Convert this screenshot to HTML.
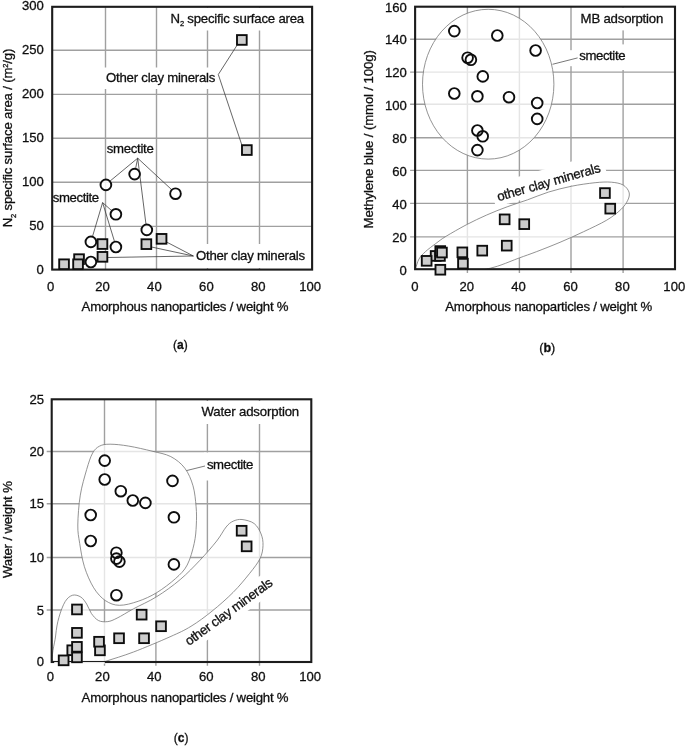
<!DOCTYPE html>
<html><head><meta charset="utf-8"><title>Figure</title>
<style>html,body{margin:0;padding:0;background:#fff}svg{display:block}text{font-family:"Liberation Sans",Arial,Helvetica,sans-serif;fill:#111;stroke:#111;stroke-width:0.3px}</style></head><body>
<svg width="685" height="746" viewBox="0 0 685 746">
<rect width="685" height="746" fill="#fff"/>
<defs><filter id="soft" x="0" y="0" width="685" height="746" filterUnits="userSpaceOnUse"><feGaussianBlur stdDeviation="0.4"/></filter></defs>
<g filter="url(#soft)">
<g id="plot-a">
<line x1="105.5" y1="6.8" x2="105.5" y2="269.6" stroke="#a0a0a0" stroke-width="1.4"/>
<line x1="156.5" y1="6.8" x2="156.5" y2="269.6" stroke="#a0a0a0" stroke-width="1.4"/>
<line x1="207.5" y1="6.8" x2="207.5" y2="269.6" stroke="#a0a0a0" stroke-width="1.4"/>
<line x1="259.5" y1="6.8" x2="259.5" y2="269.6" stroke="#a0a0a0" stroke-width="1.4"/>
<line x1="52.2" y1="50.3" x2="312.1" y2="50.3" stroke="#a0a0a0" stroke-width="1.4"/>
<line x1="52.2" y1="94.4" x2="312.1" y2="94.4" stroke="#a0a0a0" stroke-width="1.4"/>
<line x1="52.2" y1="138.3" x2="312.1" y2="138.3" stroke="#a0a0a0" stroke-width="1.4"/>
<line x1="52.2" y1="182.3" x2="312.1" y2="182.3" stroke="#a0a0a0" stroke-width="1.4"/>
<line x1="52.2" y1="226.4" x2="312.1" y2="226.4" stroke="#a0a0a0" stroke-width="1.4"/>
<rect x="166" y="8" width="142" height="22.5" fill="#fff"/>
<rect x="103" y="67.5" width="114" height="21.5" fill="#fff"/>
<rect x="194" y="244" width="116" height="24" fill="#fff"/>
<line x1="218.3" y1="74.5" x2="237.5" y2="44.5" stroke="#333" stroke-width="0.75"/>
<line x1="218.3" y1="74.5" x2="242" y2="145.5" stroke="#333" stroke-width="0.75"/>
<line x1="137.7" y1="158.2" x2="109.5" y2="181.5" stroke="#333" stroke-width="0.75"/>
<line x1="137.7" y1="158.2" x2="135.5" y2="169" stroke="#333" stroke-width="0.75"/>
<line x1="137.7" y1="158.2" x2="171.5" y2="189.5" stroke="#333" stroke-width="0.75"/>
<line x1="137.7" y1="158.2" x2="146" y2="224.5" stroke="#333" stroke-width="0.75"/>
<line x1="102.6" y1="202.6" x2="111.5" y2="210.5" stroke="#333" stroke-width="0.75"/>
<line x1="102.6" y1="202.6" x2="92.5" y2="236.5" stroke="#333" stroke-width="0.75"/>
<line x1="102.6" y1="202.6" x2="114.5" y2="241.5" stroke="#333" stroke-width="0.75"/>
<line x1="193.4" y1="256" x2="166.5" y2="242" stroke="#333" stroke-width="0.75"/>
<line x1="193.4" y1="256" x2="151.5" y2="247" stroke="#333" stroke-width="0.75"/>
<line x1="193.4" y1="256" x2="107.5" y2="257.5" stroke="#333" stroke-width="0.75"/>
<rect x="52.2" y="6.8" width="259.90000000000003" height="262.8" fill="none" stroke="#1c1c1c" stroke-width="2.1"/>
<rect x="237.0" y="35.1" width="9.7" height="9.7" fill="#cdcdcd" stroke="#111" stroke-width="1.9"/>
<rect x="242.0" y="145.2" width="9.7" height="9.7" fill="#cdcdcd" stroke="#111" stroke-width="1.9"/>
<rect x="156.7" y="234.0" width="9.7" height="9.7" fill="#cdcdcd" stroke="#111" stroke-width="1.9"/>
<rect x="141.5" y="239.3" width="9.7" height="9.7" fill="#cdcdcd" stroke="#111" stroke-width="1.9"/>
<rect x="97.6" y="239.2" width="9.7" height="9.7" fill="#cdcdcd" stroke="#111" stroke-width="1.9"/>
<rect x="97.6" y="252.0" width="9.7" height="9.7" fill="#cdcdcd" stroke="#111" stroke-width="1.9"/>
<rect x="74.2" y="254.3" width="9.7" height="9.7" fill="#cdcdcd" stroke="#111" stroke-width="1.9"/>
<rect x="59.2" y="259.4" width="9.7" height="9.7" fill="#cdcdcd" stroke="#111" stroke-width="1.9"/>
<rect x="73.2" y="259.4" width="9.7" height="9.7" fill="#cdcdcd" stroke="#111" stroke-width="1.9"/>
<circle cx="105.9" cy="184.9" r="5.35" fill="rgba(255,255,255,0.85)"/>
<circle cx="134.6" cy="174.1" r="5.35" fill="rgba(255,255,255,0.85)"/>
<circle cx="175.5" cy="193.7" r="5.35" fill="rgba(255,255,255,0.85)"/>
<circle cx="115.9" cy="214.3" r="5.35" fill="rgba(255,255,255,0.85)"/>
<circle cx="146.8" cy="229.9" r="5.35" fill="rgba(255,255,255,0.85)"/>
<circle cx="90.9" cy="241.9" r="5.35" fill="rgba(255,255,255,0.85)"/>
<circle cx="115.9" cy="247.0" r="5.35" fill="rgba(255,255,255,0.85)"/>
<circle cx="90.9" cy="262.0" r="5.35" fill="rgba(255,255,255,0.85)"/>
<circle cx="105.9" cy="184.9" r="5.35" fill="none" stroke="#111" stroke-width="1.9"/>
<circle cx="134.6" cy="174.1" r="5.35" fill="none" stroke="#111" stroke-width="1.9"/>
<circle cx="175.5" cy="193.7" r="5.35" fill="none" stroke="#111" stroke-width="1.9"/>
<circle cx="115.9" cy="214.3" r="5.35" fill="none" stroke="#111" stroke-width="1.9"/>
<circle cx="146.8" cy="229.9" r="5.35" fill="none" stroke="#111" stroke-width="1.9"/>
<circle cx="90.9" cy="241.9" r="5.35" fill="none" stroke="#111" stroke-width="1.9"/>
<circle cx="115.9" cy="247.0" r="5.35" fill="none" stroke="#111" stroke-width="1.9"/>
<circle cx="90.9" cy="262.0" r="5.35" fill="none" stroke="#111" stroke-width="1.9"/>
<text x="170.6" y="22.8" font-size="13.2" textLength="133.6" lengthAdjust="spacing">N<tspan font-size="7.5" dy="3.5">2</tspan><tspan dy="-3.5"> specific surface area</tspan></text>
<text x="106.1" y="81.6" font-size="13.2" text-anchor="start" textLength="109.2" lengthAdjust="spacing">Other clay minerals</text>
<text x="106.8" y="152.8" font-size="13.2" text-anchor="start" textLength="47" lengthAdjust="spacing">smectite</text>
<text x="52.8" y="201.9" font-size="13.2" text-anchor="start" textLength="46.3" lengthAdjust="spacing">smectite</text>
<text x="196" y="260.4" font-size="13.2" text-anchor="start" textLength="109" lengthAdjust="spacing">Other clay minerals</text>
<text x="43.8" y="10.4" font-size="13.1" text-anchor="end">300</text>
<text x="43.8" y="54.4" font-size="13.1" text-anchor="end">250</text>
<text x="43.8" y="98.4" font-size="13.1" text-anchor="end">200</text>
<text x="43.8" y="142.3" font-size="13.1" text-anchor="end">150</text>
<text x="43.8" y="186.3" font-size="13.1" text-anchor="end">100</text>
<text x="43.8" y="230.3" font-size="13.1" text-anchor="end">50</text>
<text x="43.8" y="274.3" font-size="13.1" text-anchor="end">0</text>
<text x="50.6" y="290.5" font-size="13.1" text-anchor="middle">0</text>
<text x="102.5" y="290.5" font-size="13.1" text-anchor="middle">20</text>
<text x="154.4" y="290.5" font-size="13.1" text-anchor="middle">40</text>
<text x="206.4" y="290.5" font-size="13.1" text-anchor="middle">60</text>
<text x="258.3" y="290.5" font-size="13.1" text-anchor="middle">80</text>
<text x="310.2" y="290.5" font-size="13.1" text-anchor="middle">100</text>
<text x="185.1" y="310.8" font-size="13.2" text-anchor="middle" textLength="207" lengthAdjust="spacing">Amorphous nanoparticles / weight %</text>
<text transform="translate(12.0,138.0) rotate(-90)" font-size="13.2" text-anchor="middle" textLength="178.6" lengthAdjust="spacing">N<tspan font-size="7.5" dy="3.5">2</tspan><tspan dy="-3.5"> specific surface area / (m</tspan><tspan font-size="7.5" dy="-4.5">2</tspan><tspan dy="4.5">/g)</tspan></text>
<text x="180.3" y="348.9" font-size="12" text-anchor="middle">(<tspan font-weight="bold">a</tspan>)</text>
</g>
<g id="plot-b">
<clipPath id="clipb"><rect x="415.1" y="6.7" width="259.9" height="262.5"/></clipPath>
<line x1="467.4" y1="6.7" x2="467.4" y2="273.0" stroke="#a0a0a0" stroke-width="1.4"/>
<line x1="519.4" y1="6.7" x2="519.4" y2="273.0" stroke="#a0a0a0" stroke-width="1.4"/>
<line x1="571" y1="6.7" x2="571" y2="273.0" stroke="#a0a0a0" stroke-width="1.4"/>
<line x1="623.1" y1="6.7" x2="623.1" y2="273.0" stroke="#a0a0a0" stroke-width="1.4"/>
<line x1="410.1" y1="39.3" x2="675" y2="39.3" stroke="#a0a0a0" stroke-width="1.4"/>
<line x1="410.1" y1="72.1" x2="675" y2="72.1" stroke="#a0a0a0" stroke-width="1.4"/>
<line x1="410.1" y1="104.3" x2="675" y2="104.3" stroke="#a0a0a0" stroke-width="1.4"/>
<line x1="410.1" y1="137.7" x2="675" y2="137.7" stroke="#a0a0a0" stroke-width="1.4"/>
<line x1="410.1" y1="170.4" x2="675" y2="170.4" stroke="#a0a0a0" stroke-width="1.4"/>
<line x1="410.1" y1="203.4" x2="675" y2="203.4" stroke="#a0a0a0" stroke-width="1.4"/>
<line x1="410.1" y1="236.9" x2="675" y2="236.9" stroke="#a0a0a0" stroke-width="1.4"/>
<rect x="576" y="7.8" width="97" height="22.6" fill="#fff"/>
<rect x="569" y="50.2" width="59" height="16" fill="#fff"/>
<rect x="618" y="44.4" width="10" height="25.6" fill="#fff"/>
<rect x="-4" y="-18" width="116" height="23" fill="#fff" transform="translate(498.4,201.2) rotate(-16)"/>
<ellipse cx="488.2" cy="84.2" rx="65.7" ry="74.9" fill="rgba(255,255,255,0.72)" stroke="#777" stroke-width="0.8"/>
<path d="M415.3,268.8 C416.5,266.3 417.3,261.9 419.0,259.0 C420.7,256.1 422.6,254.3 425.4,251.7 C428.2,249.1 432.3,246.1 435.7,243.6 C439.1,241.1 440.8,239.5 445.9,236.4 C451.0,233.3 459.5,228.4 466.3,224.8 C473.1,221.2 479.9,218.0 486.7,215.0 C493.5,212.0 500.4,209.3 507.2,206.8 C514.0,204.3 520.7,202.2 527.6,199.8 C534.5,197.4 541.0,194.4 548.4,192.1 C555.8,189.8 563.9,187.8 571.7,186.2 C579.5,184.6 588.5,183.4 595.1,182.7 C601.7,182.0 606.7,181.8 611.4,182.2 C616.1,182.6 620.2,183.3 623.1,185.0 C626.0,186.7 628.2,189.6 629.0,192.1 C629.8,194.6 629.2,197.3 627.8,200.2 C626.4,203.1 624.3,206.3 620.8,209.6 C617.3,212.9 613.0,216.4 606.8,220.1 C600.6,223.8 591.2,228.1 583.4,231.8 C575.6,235.5 567.8,239.0 560.0,242.3 C552.2,245.6 543.5,249.0 536.7,251.6 C529.9,254.2 525.4,255.7 519.4,257.9 C513.4,260.1 506.4,263.1 501.0,265.0 C495.6,266.9 492.7,267.6 486.7,269.1 C480.7,270.6 474.4,272.7 465.0,274.0 C455.6,275.3 438.8,277.0 430.0,277.0 C421.2,277.0 414.4,275.4 412.0,274.0 C409.6,272.6 414.1,271.3 415.3,268.8Z" fill="rgba(255,255,255,0.72)" stroke="#777" stroke-width="0.8" clip-path="url(#clipb)"/>
<line x1="552.5" y1="64.3" x2="577.6" y2="57.9" stroke="#555" stroke-width="0.8"/>
<rect x="415.1" y="6.7" width="259.9" height="262.5" fill="none" stroke="#1c1c1c" stroke-width="2.1"/>
<rect x="430.8" y="251.1" width="9.7" height="9.7" fill="#cdcdcd" stroke="#111" stroke-width="1.9"/>
<rect x="435.1" y="251.1" width="9.7" height="9.7" fill="#cdcdcd" stroke="#111" stroke-width="1.9"/>
<rect x="421.8" y="256.0" width="9.7" height="9.7" fill="#cdcdcd" stroke="#111" stroke-width="1.9"/>
<rect x="435.4" y="246.2" width="9.7" height="9.7" fill="#cdcdcd" stroke="#111" stroke-width="1.9"/>
<rect x="437.1" y="247.7" width="9.7" height="9.7" fill="#cdcdcd" stroke="#111" stroke-width="1.9"/>
<rect x="435.5" y="264.9" width="9.7" height="9.7" fill="#cdcdcd" stroke="#111" stroke-width="1.9"/>
<rect x="457.5" y="247.5" width="9.7" height="9.7" fill="#cdcdcd" stroke="#111" stroke-width="1.9"/>
<rect x="458.1" y="258.8" width="9.7" height="9.7" fill="#cdcdcd" stroke="#111" stroke-width="1.9"/>
<rect x="477.4" y="245.8" width="9.7" height="9.7" fill="#cdcdcd" stroke="#111" stroke-width="1.9"/>
<rect x="501.9" y="240.8" width="9.7" height="9.7" fill="#cdcdcd" stroke="#111" stroke-width="1.9"/>
<rect x="499.8" y="214.5" width="9.7" height="9.7" fill="#cdcdcd" stroke="#111" stroke-width="1.9"/>
<rect x="519.4" y="219.3" width="9.7" height="9.7" fill="#cdcdcd" stroke="#111" stroke-width="1.9"/>
<rect x="600.1" y="188.2" width="9.7" height="9.7" fill="#cdcdcd" stroke="#111" stroke-width="1.9"/>
<rect x="605.4" y="203.8" width="9.7" height="9.7" fill="#cdcdcd" stroke="#111" stroke-width="1.9"/>
<circle cx="454.3" cy="31.1" r="5.35" fill="rgba(255,255,255,0.85)"/>
<circle cx="497.3" cy="35.5" r="5.35" fill="rgba(255,255,255,0.85)"/>
<circle cx="535.6" cy="50.5" r="5.35" fill="rgba(255,255,255,0.85)"/>
<circle cx="467.6" cy="57.7" r="5.35" fill="rgba(255,255,255,0.85)"/>
<circle cx="470.9" cy="59.8" r="5.35" fill="rgba(255,255,255,0.85)"/>
<circle cx="482.8" cy="76.4" r="5.35" fill="rgba(255,255,255,0.85)"/>
<circle cx="454.3" cy="93.5" r="5.35" fill="rgba(255,255,255,0.85)"/>
<circle cx="477.4" cy="96.3" r="5.35" fill="rgba(255,255,255,0.85)"/>
<circle cx="509.0" cy="97.2" r="5.35" fill="rgba(255,255,255,0.85)"/>
<circle cx="537.2" cy="103.0" r="5.35" fill="rgba(255,255,255,0.85)"/>
<circle cx="537.2" cy="118.9" r="5.35" fill="rgba(255,255,255,0.85)"/>
<circle cx="477.4" cy="130.5" r="5.35" fill="rgba(255,255,255,0.85)"/>
<circle cx="482.7" cy="136.3" r="5.35" fill="rgba(255,255,255,0.85)"/>
<circle cx="477.4" cy="150.1" r="5.35" fill="rgba(255,255,255,0.85)"/>
<circle cx="454.3" cy="31.1" r="5.35" fill="none" stroke="#111" stroke-width="1.9"/>
<circle cx="497.3" cy="35.5" r="5.35" fill="none" stroke="#111" stroke-width="1.9"/>
<circle cx="535.6" cy="50.5" r="5.35" fill="none" stroke="#111" stroke-width="1.9"/>
<circle cx="467.6" cy="57.7" r="5.35" fill="none" stroke="#111" stroke-width="1.9"/>
<circle cx="470.9" cy="59.8" r="5.35" fill="none" stroke="#111" stroke-width="1.9"/>
<circle cx="482.8" cy="76.4" r="5.35" fill="none" stroke="#111" stroke-width="1.9"/>
<circle cx="454.3" cy="93.5" r="5.35" fill="none" stroke="#111" stroke-width="1.9"/>
<circle cx="477.4" cy="96.3" r="5.35" fill="none" stroke="#111" stroke-width="1.9"/>
<circle cx="509.0" cy="97.2" r="5.35" fill="none" stroke="#111" stroke-width="1.9"/>
<circle cx="537.2" cy="103.0" r="5.35" fill="none" stroke="#111" stroke-width="1.9"/>
<circle cx="537.2" cy="118.9" r="5.35" fill="none" stroke="#111" stroke-width="1.9"/>
<circle cx="477.4" cy="130.5" r="5.35" fill="none" stroke="#111" stroke-width="1.9"/>
<circle cx="482.7" cy="136.3" r="5.35" fill="none" stroke="#111" stroke-width="1.9"/>
<circle cx="477.4" cy="150.1" r="5.35" fill="none" stroke="#111" stroke-width="1.9"/>
<text x="580.6" y="22.9" font-size="13.2" text-anchor="start" textLength="82.7" lengthAdjust="spacing">MB adsorption</text>
<text x="579.2" y="59.6" font-size="13.2" text-anchor="start" textLength="46.3" lengthAdjust="spacing">smectite</text>
<text transform="translate(498.4,201.2) rotate(-16)" font-size="13.2" textLength="107" lengthAdjust="spacing">other clay minerals</text>
<text x="406.9" y="274.5" font-size="13.1" text-anchor="end">0</text>
<text x="406.9" y="241.6" font-size="13.1" text-anchor="end">20</text>
<text x="406.9" y="208.8" font-size="13.1" text-anchor="end">40</text>
<text x="406.9" y="175.9" font-size="13.1" text-anchor="end">60</text>
<text x="406.9" y="143.0" font-size="13.1" text-anchor="end">80</text>
<text x="406.9" y="110.2" font-size="13.1" text-anchor="end">100</text>
<text x="406.9" y="77.3" font-size="13.1" text-anchor="end">120</text>
<text x="406.9" y="44.4" font-size="13.1" text-anchor="end">140</text>
<text x="406.9" y="11.5" font-size="13.1" text-anchor="end">160</text>
<text x="414.8" y="290.7" font-size="13.1" text-anchor="middle">0</text>
<text x="466.7" y="290.7" font-size="13.1" text-anchor="middle">20</text>
<text x="518.6" y="290.7" font-size="13.1" text-anchor="middle">40</text>
<text x="570.5" y="290.7" font-size="13.1" text-anchor="middle">60</text>
<text x="622.4" y="290.7" font-size="13.1" text-anchor="middle">80</text>
<text x="674.3" y="290.7" font-size="13.1" text-anchor="middle">100</text>
<text x="548.7" y="310.6" font-size="13.2" text-anchor="middle" textLength="207" lengthAdjust="spacing">Amorphous nanoparticles / weight %</text>
<text transform="translate(373.1,139.3) rotate(-90)" font-size="13.2" text-anchor="middle" textLength="178.2" lengthAdjust="spacing">Methylene blue / (mmol / 100g)</text>
<text x="547.2" y="351.9" font-size="12.5" text-anchor="middle">(<tspan font-weight="bold">b</tspan>)</text>
</g>
<g id="plot-c">
<clipPath id="clipc"><rect x="51.7" y="399.3" width="259.6" height="262.7"/></clipPath>
<line x1="104.5" y1="399.3" x2="104.5" y2="665.8" stroke="#a0a0a0" stroke-width="1.4"/>
<line x1="155.9" y1="399.3" x2="155.9" y2="665.8" stroke="#a0a0a0" stroke-width="1.4"/>
<line x1="207.4" y1="399.3" x2="207.4" y2="665.8" stroke="#a0a0a0" stroke-width="1.4"/>
<line x1="259.5" y1="399.3" x2="259.5" y2="665.8" stroke="#a0a0a0" stroke-width="1.4"/>
<line x1="46.7" y1="451.5" x2="311.3" y2="451.5" stroke="#a0a0a0" stroke-width="1.4"/>
<line x1="46.7" y1="503.7" x2="311.3" y2="503.7" stroke="#a0a0a0" stroke-width="1.4"/>
<line x1="46.7" y1="557.5" x2="311.3" y2="557.5" stroke="#a0a0a0" stroke-width="1.4"/>
<line x1="46.7" y1="610" x2="311.3" y2="610" stroke="#a0a0a0" stroke-width="1.4"/>
<rect x="198" y="401" width="106" height="23" fill="#fff"/>
<rect x="204" y="452.5" width="52" height="28" fill="#fff"/>
<rect x="-4" y="-15" width="116" height="21" fill="#fff" transform="translate(189,646) rotate(-36)"/>
<path d="M77.8,525.0 C77.9,517.0 78.8,504.4 80.3,495.1 C81.8,485.8 84.7,476.4 86.7,469.4 C88.8,462.4 90.4,457.0 92.6,453.1 C94.8,449.2 96.7,447.6 99.6,446.1 C102.5,444.6 105.2,444.2 110.1,444.2 C115.0,444.2 121.8,444.9 128.8,446.1 C135.8,447.3 145.1,449.4 152.1,451.2 C159.1,452.9 165.3,453.8 170.8,456.6 C176.3,459.5 181.2,463.4 184.9,468.3 C188.6,473.2 191.1,479.4 193.0,485.8 C194.9,492.2 195.5,500.3 196.1,506.8 C196.7,513.3 196.6,518.9 196.3,525.0 C196.0,531.1 195.7,536.7 194.2,543.4 C192.7,550.1 190.3,559.1 187.2,565.0 C184.1,570.9 180.6,574.0 175.5,578.6 C170.4,583.2 163.0,588.8 156.8,592.6 C150.6,596.4 144.3,599.2 138.1,601.3 C131.9,603.4 124.9,605.4 119.4,605.3 C114.0,605.2 109.7,603.5 105.4,600.6 C101.1,597.7 97.2,593.4 93.7,587.8 C90.2,582.1 86.7,574.1 84.4,566.7 C82.1,559.3 80.8,550.4 79.7,543.4 C78.6,536.4 77.7,533.0 77.8,525.0Z" fill="rgba(255,255,255,0.72)" stroke="#777" stroke-width="0.8"/>
<path d="M53.9,664.0 C49.8,658.3 54.8,643.8 55.6,636.0 C56.4,628.2 57.3,623.2 58.9,617.5 C60.5,611.8 62.9,605.2 65.2,601.5 C67.5,597.8 70.1,595.9 72.7,595.2 C75.3,594.5 78.6,595.6 80.9,597.1 C83.2,598.6 85.0,601.4 86.7,604.1 C88.5,606.8 89.5,610.8 91.4,613.5 C93.4,616.2 95.7,619.1 98.4,620.5 C101.1,621.9 104.7,622.0 107.8,621.6 C110.9,621.2 112.8,620.2 117.1,618.1 C121.4,616.0 126.9,612.4 133.5,608.8 C140.1,605.2 149.0,601.5 156.8,596.6 C164.6,591.7 173.0,585.7 180.2,579.6 C187.4,573.5 193.9,566.6 200.0,560.2 C206.1,553.8 212.3,546.5 216.7,541.0 C221.0,535.5 223.4,530.3 226.1,527.0 C228.8,523.7 230.4,522.5 233.1,521.2 C235.8,520.0 238.5,519.1 242.0,519.5 C245.5,519.9 250.9,521.1 254.1,523.5 C257.3,525.9 259.6,530.3 261.1,534.0 C262.6,537.7 263.2,541.6 263.0,545.7 C262.8,549.8 262.3,553.9 260.0,558.6 C257.7,563.3 253.9,568.1 249.4,573.7 C244.9,579.3 239.3,586.2 233.1,592.4 C226.9,598.6 219.1,605.5 212.1,611.1 C205.1,616.8 198.0,622.0 191.0,626.3 C184.0,630.6 179.6,632.5 170.0,636.8 C160.4,641.1 144.3,647.9 133.5,652.0 C122.7,656.1 114.3,658.4 105.4,661.4 C96.5,664.4 88.6,669.6 80.0,670.0 C71.4,670.4 58.0,669.7 53.9,664.0Z" fill="rgba(255,255,255,0.72)" stroke="#777" stroke-width="0.8" clip-path="url(#clipc)"/>
<line x1="186.5" y1="470.6" x2="205" y2="466" stroke="#444" stroke-width="0.7"/>
<rect x="51.7" y="399.3" width="259.6" height="262.7" fill="none" stroke="#1c1c1c" stroke-width="2.1"/>
<rect x="54.2" y="662.1" width="50.6" height="1.6" fill="#fff"/>
<rect x="72.1" y="604.6" width="9.7" height="9.7" fill="#cdcdcd" stroke="#111" stroke-width="1.9"/>
<rect x="72.1" y="628.0" width="9.7" height="9.7" fill="#cdcdcd" stroke="#111" stroke-width="1.9"/>
<rect x="67.4" y="645.4" width="9.7" height="9.7" fill="#cdcdcd" stroke="#111" stroke-width="1.9"/>
<rect x="72.1" y="652.5" width="9.7" height="9.7" fill="#cdcdcd" stroke="#111" stroke-width="1.9"/>
<rect x="72.1" y="642.0" width="9.7" height="9.7" fill="#cdcdcd" stroke="#111" stroke-width="1.9"/>
<rect x="58.8" y="655.5" width="9.7" height="9.7" fill="#cdcdcd" stroke="#111" stroke-width="1.9"/>
<rect x="95.1" y="645.5" width="9.7" height="9.7" fill="#cdcdcd" stroke="#111" stroke-width="1.9"/>
<rect x="94.2" y="636.9" width="9.7" height="9.7" fill="#cdcdcd" stroke="#111" stroke-width="1.9"/>
<rect x="114.2" y="633.4" width="9.7" height="9.7" fill="#cdcdcd" stroke="#111" stroke-width="1.9"/>
<rect x="139.2" y="633.4" width="9.7" height="9.7" fill="#cdcdcd" stroke="#111" stroke-width="1.9"/>
<rect x="136.8" y="609.8" width="9.7" height="9.7" fill="#cdcdcd" stroke="#111" stroke-width="1.9"/>
<rect x="156.2" y="621.4" width="9.7" height="9.7" fill="#cdcdcd" stroke="#111" stroke-width="1.9"/>
<rect x="236.8" y="525.9" width="9.7" height="9.7" fill="#cdcdcd" stroke="#111" stroke-width="1.9"/>
<rect x="241.8" y="541.5" width="9.7" height="9.7" fill="#cdcdcd" stroke="#111" stroke-width="1.9"/>
<circle cx="104.7" cy="460.6" r="5.35" fill="rgba(255,255,255,0.85)"/>
<circle cx="104.7" cy="479.5" r="5.35" fill="rgba(255,255,255,0.85)"/>
<circle cx="120.8" cy="491.2" r="5.35" fill="rgba(255,255,255,0.85)"/>
<circle cx="132.8" cy="500.5" r="5.35" fill="rgba(255,255,255,0.85)"/>
<circle cx="145.4" cy="502.9" r="5.35" fill="rgba(255,255,255,0.85)"/>
<circle cx="172.5" cy="480.9" r="5.35" fill="rgba(255,255,255,0.85)"/>
<circle cx="173.9" cy="517.3" r="5.35" fill="rgba(255,255,255,0.85)"/>
<circle cx="90.7" cy="515.0" r="5.35" fill="rgba(255,255,255,0.85)"/>
<circle cx="90.7" cy="541.0" r="5.35" fill="rgba(255,255,255,0.85)"/>
<circle cx="116.4" cy="552.7" r="5.35" fill="rgba(255,255,255,0.85)"/>
<circle cx="116.4" cy="558.6" r="5.35" fill="rgba(255,255,255,0.85)"/>
<circle cx="119.4" cy="561.6" r="5.35" fill="rgba(255,255,255,0.85)"/>
<circle cx="173.9" cy="564.4" r="5.35" fill="rgba(255,255,255,0.85)"/>
<circle cx="116.4" cy="595.2" r="5.35" fill="rgba(255,255,255,0.85)"/>
<circle cx="104.7" cy="460.6" r="5.35" fill="none" stroke="#111" stroke-width="1.9"/>
<circle cx="104.7" cy="479.5" r="5.35" fill="none" stroke="#111" stroke-width="1.9"/>
<circle cx="120.8" cy="491.2" r="5.35" fill="none" stroke="#111" stroke-width="1.9"/>
<circle cx="132.8" cy="500.5" r="5.35" fill="none" stroke="#111" stroke-width="1.9"/>
<circle cx="145.4" cy="502.9" r="5.35" fill="none" stroke="#111" stroke-width="1.9"/>
<circle cx="172.5" cy="480.9" r="5.35" fill="none" stroke="#111" stroke-width="1.9"/>
<circle cx="173.9" cy="517.3" r="5.35" fill="none" stroke="#111" stroke-width="1.9"/>
<circle cx="90.7" cy="515.0" r="5.35" fill="none" stroke="#111" stroke-width="1.9"/>
<circle cx="90.7" cy="541.0" r="5.35" fill="none" stroke="#111" stroke-width="1.9"/>
<circle cx="116.4" cy="552.7" r="5.35" fill="none" stroke="#111" stroke-width="1.9"/>
<circle cx="116.4" cy="558.6" r="5.35" fill="none" stroke="#111" stroke-width="1.9"/>
<circle cx="119.4" cy="561.6" r="5.35" fill="none" stroke="#111" stroke-width="1.9"/>
<circle cx="173.9" cy="564.4" r="5.35" fill="none" stroke="#111" stroke-width="1.9"/>
<circle cx="116.4" cy="595.2" r="5.35" fill="none" stroke="#111" stroke-width="1.9"/>
<text x="201.5" y="415.7" font-size="13.2" text-anchor="start" textLength="97.7" lengthAdjust="spacing">Water adsorption</text>
<text x="206.9" y="469" font-size="13.2" text-anchor="start" textLength="46.5" lengthAdjust="spacing">smectite</text>
<text transform="translate(189,646) rotate(-36)" font-size="13.2" textLength="104.5" lengthAdjust="spacing">other clay minerals</text>
<text x="44.0" y="403.6" font-size="13.1" text-anchor="end">25</text>
<text x="44.0" y="456.0" font-size="13.1" text-anchor="end">20</text>
<text x="44.0" y="508.3" font-size="13.1" text-anchor="end">15</text>
<text x="44.0" y="562.0" font-size="13.1" text-anchor="end">10</text>
<text x="44.0" y="614.7" font-size="13.1" text-anchor="end">5</text>
<text x="44.0" y="666.1" font-size="13.1" text-anchor="end">0</text>
<text x="50.5" y="680.5" font-size="13.1" text-anchor="middle">0</text>
<text x="102.4" y="680.5" font-size="13.1" text-anchor="middle">20</text>
<text x="154.3" y="680.5" font-size="13.1" text-anchor="middle">40</text>
<text x="206.3" y="680.5" font-size="13.1" text-anchor="middle">60</text>
<text x="258.2" y="680.5" font-size="13.1" text-anchor="middle">80</text>
<text x="310.1" y="680.5" font-size="13.1" text-anchor="middle">100</text>
<text x="185.1" y="701.7" font-size="13.2" text-anchor="middle" textLength="207" lengthAdjust="spacing">Amorphous nanoparticles / weight %</text>
<text transform="translate(11.7,529.6) rotate(-90)" font-size="13.2" text-anchor="middle" textLength="97" lengthAdjust="spacing">Water / weight %</text>
<text x="181.2" y="742" font-size="12" text-anchor="middle">(<tspan font-weight="bold">c</tspan>)</text>
</g>
</g>
</svg></body></html>
